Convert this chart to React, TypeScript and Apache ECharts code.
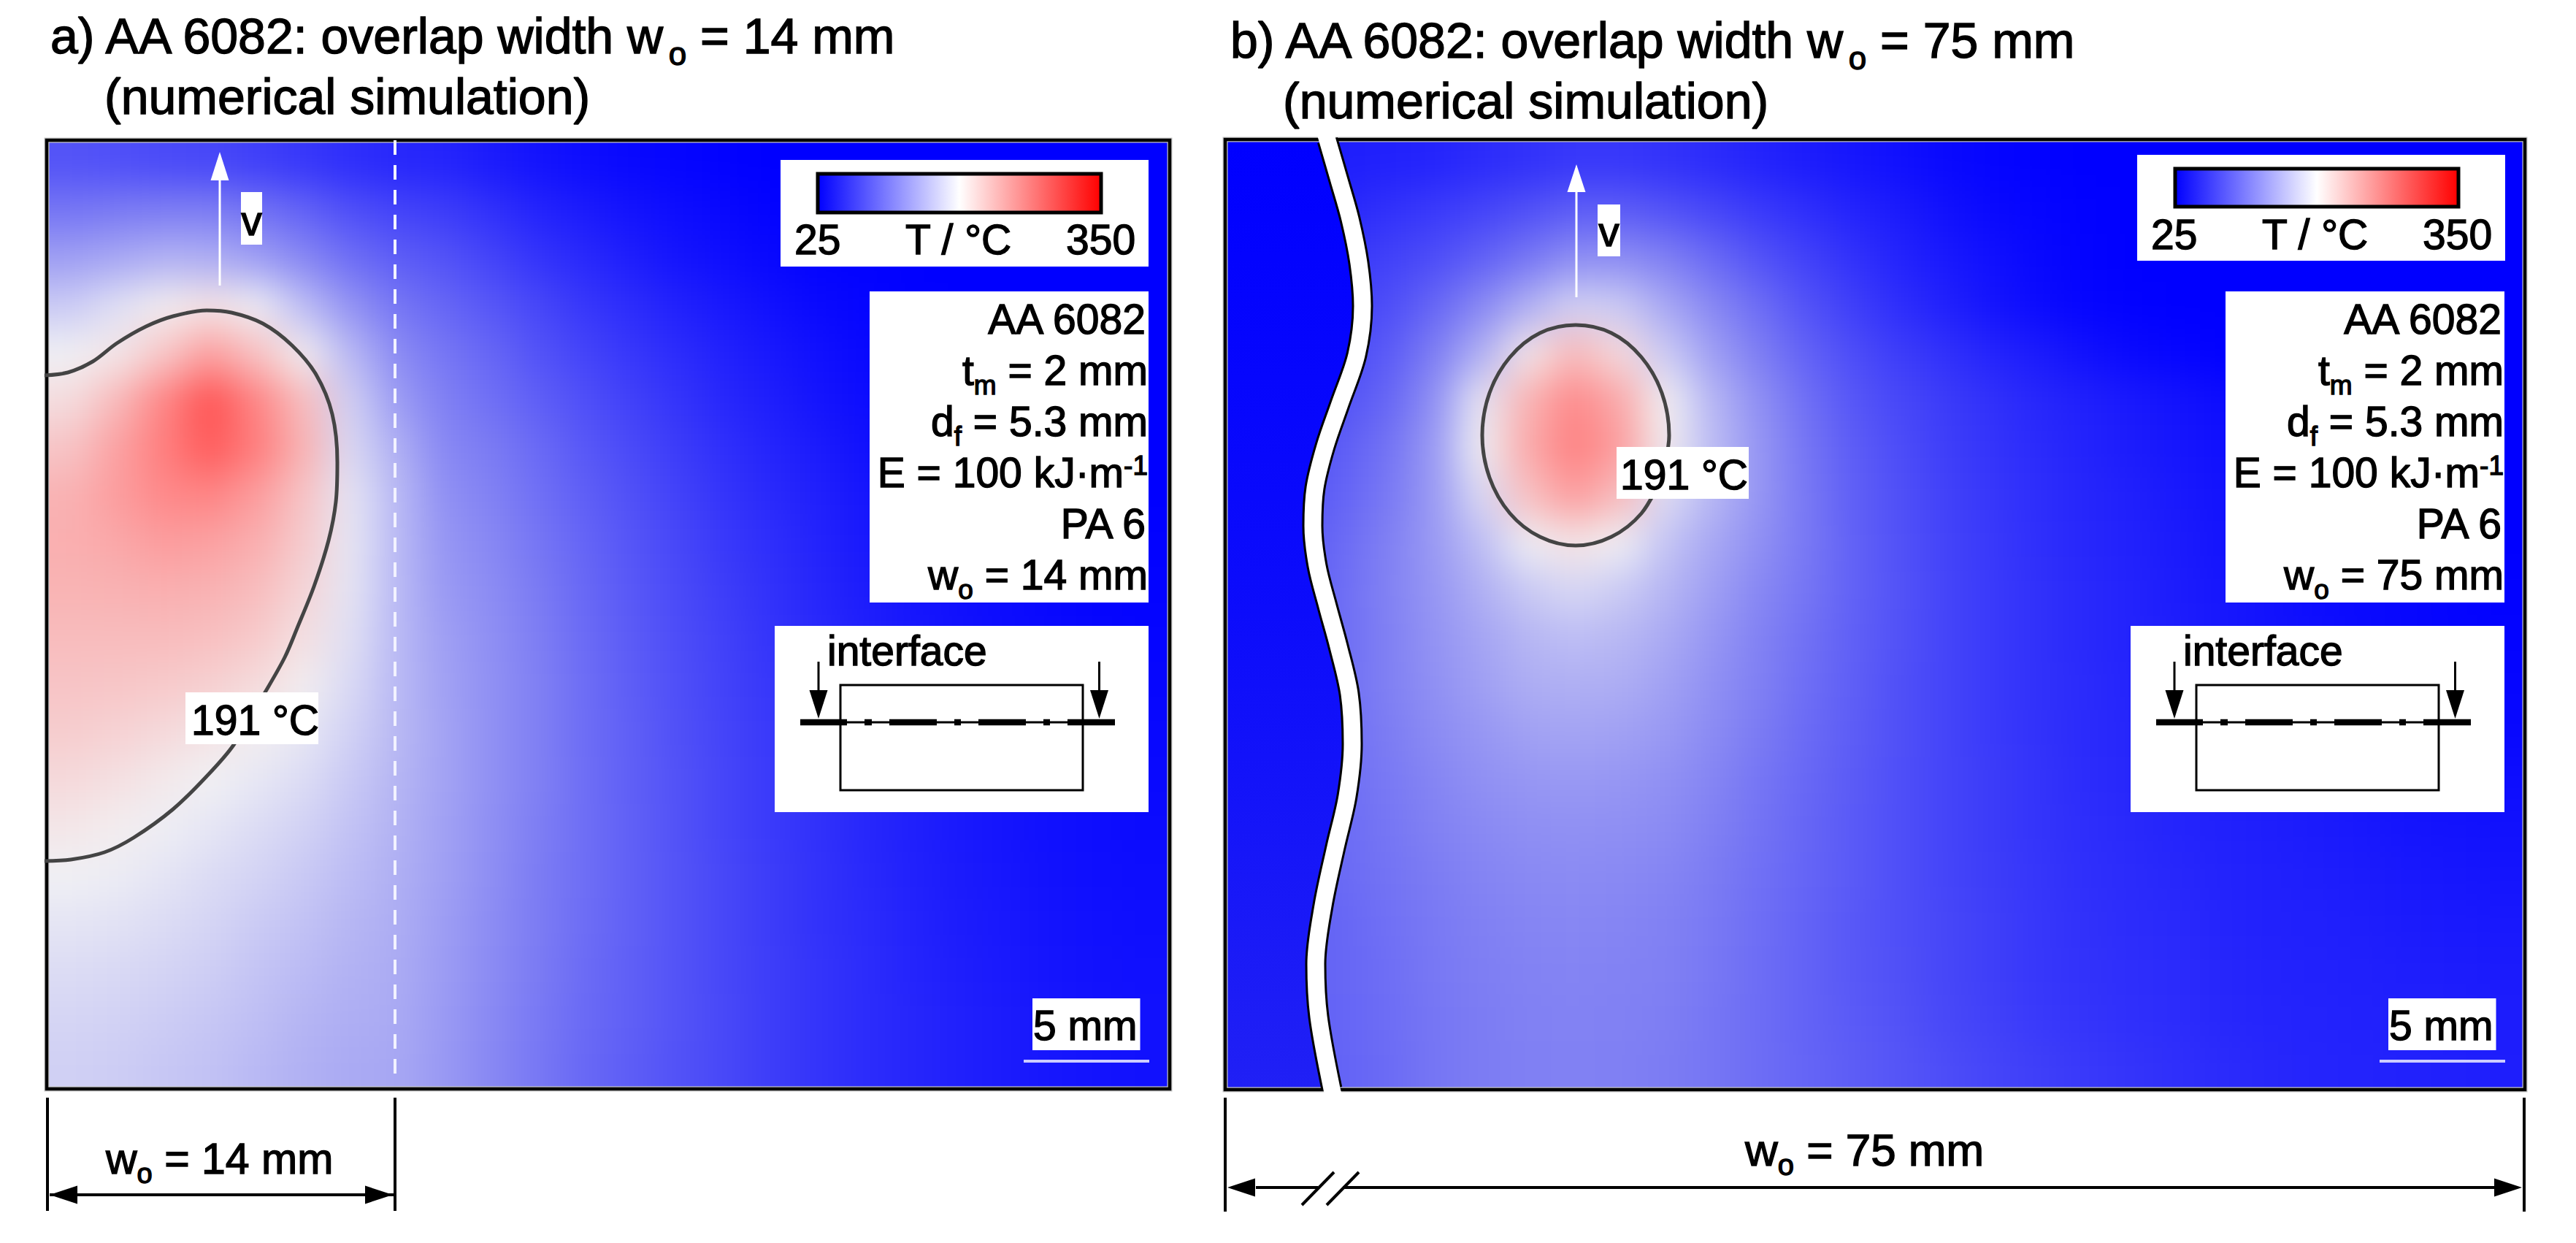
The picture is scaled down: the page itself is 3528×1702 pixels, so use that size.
import React, { useEffect, useRef } from "react";
import * as echarts from "echarts";

// temperature colour scale
const tempMin = 25;
const tempMax = 350;
const scaleColors = ["#0000ff", "#ffffff", "#ff0000"];
const fieldColors = ["#0000ff", "#8080f3", "#f2f2f4", "#ff8080", "#ff0000"];

// a) w_o = 14 mm : temperature in °C, 20 rows x 24 columns
const tempA = [
  [78,75,72,70,65,60,54,50,48,42,37,33,30,28,26,25,25,25,25,25,25,25,25,25],
  [100,103,105,105,98,88,75,68,64,56,48,42,37,33,30,27,26,25,25,25,25,25,25,25],
  [128,135,142,140,128,112,95,84,78,68,58,51,44,38,34,30,27,26,25,25,25,25,25,25],
  [160,175,190,198,185,150,120,100,90,80,70,60,53,46,40,35,31,28,26,25,25,25,25,25],
  [186,196,218,247,222,190,146,114,100,90,78,68,60,53,46,40,35,31,28,26,25,25,25,25],
  [203,228,265,298,265,225,163,126,106,96,85,75,66,58,50,44,38,33,30,27,26,25,25,25],
  [220,245,270,292,270,232,170,140,112,103,92,81,72,63,55,48,42,36,32,29,27,26,25,25],
  [233,248,262,265,248,220,178,147,118,108,96,85,76,67,58,51,45,39,34,31,28,27,26,25],
  [235,240,248,245,235,215,180,147,122,112,100,89,79,70,61,54,47,41,36,33,30,28,27,26],
  [232,233,235,233,225,208,178,147,125,115,103,91,81,72,64,56,49,43,38,35,32,30,28,27],
  [226,226,226,223,216,200,175,147,128,117,105,93,83,74,66,58,51,45,40,36,33,31,29,28],
  [220,219,216,212,204,190,170,147,130,118,106,94,84,75,67,60,53,47,42,38,35,32,30,29],
  [214,210,205,198,190,180,164,146,131,118,106,94,85,76,68,61,54,48,43,39,36,33,31,30],
  [205,200,194,187,180,172,158,144,131,118,106,95,85,77,69,62,55,49,44,40,37,34,32,31],
  [196,191,185,179,172,165,153,142,130,117,105,95,86,77,69,62,56,50,45,41,38,35,33,32],
  [186,183,178,172,166,158,149,140,129,116,104,95,86,78,70,63,57,51,46,42,39,36,34,33],
  [178,176,172,167,160,153,145,138,127,115,104,94,86,78,70,63,57,52,47,43,40,37,35,34],
  [172,170,166,162,155,148,142,137,126,114,103,93,85,78,70,64,58,53,48,44,41,38,36,35],
  [167,165,161,157,151,144,139,136,125,113,102,92,85,78,71,64,58,53,49,45,42,39,37,36],
  [163,161,157,153,147,141,136,134,124,112,101,91,84,77,71,64,58,53,49,45,42,39,37,36],
];

// b) w_o = 75 mm : temperature in °C, 20 rows x 28 columns
const tempB = [
  [40,42,44,46,48,52,56,60,60,57,52,47,43,39,35,31,28,26,25,25,25,25,25,25,25,25,25,25],
  [44,46,50,56,62,68,76,84,84,78,70,62,55,48,42,36,31,28,26,25,25,25,25,25,25,25,25,25],
  [50,54,60,66,74,86,100,116,116,106,92,78,67,57,48,41,35,30,27,25,25,25,25,25,25,25,25,25],
  [55,60,66,74,90,112,140,165,160,135,112,94,78,65,54,46,38,32,28,26,25,25,25,25,25,25,25,25],
  [60,65,72,82,105,140,195,228,205,160,128,105,88,74,64,56,48,42,36,31,28,26,25,25,25,25,25,25],
  [65,70,78,90,118,180,232,262,240,188,145,118,96,80,71,63,56,50,45,41,37,33,30,28,26,25,25,25],
  [68,74,84,98,125,186,238,268,248,190,150,122,100,84,74,65,58,52,47,43,39,35,32,30,28,26,25,25],
  [72,78,88,102,125,170,222,248,226,172,145,122,102,86,76,67,60,54,49,45,41,37,34,31,29,27,26,25],
  [75,80,92,106,125,150,185,198,186,155,135,118,102,87,77,68,61,55,50,46,42,38,35,32,30,28,26,25],
  [78,82,94,108,122,140,158,168,160,145,128,112,100,87,78,69,62,56,51,47,43,39,36,33,31,29,27,26],
  [80,84,94,106,120,132,145,150,146,136,122,108,97,86,77,69,62,56,51,47,44,40,37,34,32,30,28,27],
  [82,85,95,106,118,128,138,140,138,130,118,106,95,85,76,69,62,56,52,48,45,41,38,36,34,32,30,28],
  [84,86,95,104,114,122,130,132,130,124,114,103,93,84,76,69,62,57,52,49,46,43,40,38,36,34,32,30],
  [85,87,94,102,110,118,122,124,122,118,110,100,91,83,75,69,63,58,53,50,47,44,42,40,38,36,34,33],
  [85,87,93,100,107,113,117,118,117,114,106,98,90,82,75,69,63,58,54,51,48,46,44,42,40,38,37,36],
  [85,87,92,98,104,109,113,114,113,110,104,96,89,82,75,69,64,59,55,52,50,47,45,44,42,40,39,38],
  [85,86,90,96,102,106,110,111,110,107,102,95,88,81,75,70,65,60,56,53,51,48,46,45,44,42,41,40],
  [85,86,90,95,101,105,108,109,108,106,101,94,88,81,76,70,65,60,57,54,52,49,47,46,45,44,43,42],
  [85,85,89,94,100,104,107,108,107,105,100,94,88,82,77,71,66,61,58,55,53,50,48,47,46,45,44,43],
  [84,85,88,93,100,104,106,107,106,104,100,94,89,84,79,74,69,65,61,58,55,52,50,48,47,46,45,44],
];

// 191 °C isotherms
const contourA = [[60,514],[93,510],[127,495],[160,470],[200,447],[237,433],[283,425],[317,428],[360,443],[400,473],[433,513],[455,567],[462,633],[460,687],[450,740],[430,803],[407,860],[390,900],[363,948],[320,1020],[283,1063],[237,1108],[183,1147],[143,1167],[97,1177],[60,1179]];
const contourB = [[2276,654],[2248,703],[2207,735],[2158,747],[2109,735],[2068,703],[2040,654],[2030,596],[2040,538],[2068,489],[2109,456],[2158,445],[2207,456],[2248,489],[2276,538],[2286,596],[2276,654]];
// centre line of the wavy break in panel b
const breakMid = [[1818,192],[1834,247],[1849,300],[1861,360],[1866,419],[1858,486],[1835,553],[1815,611],[1801,668],[1798,720],[1804,775],[1818,830],[1833,885],[1848,950],[1852,1019],[1845,1090],[1829,1160],[1812,1240],[1802,1320],[1806,1392],[1824,1491]];
const breakTail = [[1812,172],[1830,1512]];

const titleA1 = "a) AA 6082: overlap width ";
const titleB1 = "b) AA 6082: overlap width ";
const titleLine2 = "(numerical simulation)";
const FONT = '"Liberation Sans"';

type Part = { t: string; sub?: boolean; sup?: boolean };

const canvasCtx = document.createElement("canvas").getContext("2d") as CanvasRenderingContext2D;
function tw(s: string, fs: number) {
  canvasCtx.font = `${fs}px ${FONT}`;
  return canvasCtx.measureText(s).width;
}

const textStyle = (text: string, size: number, align = "left") => ({
  text, fontSize: size, fontFamily: FONT, fill: "#000", stroke: "#000", lineWidth: 1.4, align, verticalAlign: "middle",
});

function label(x: number, baseline: number, parts: Part[], fs: number, opts: { right?: boolean; subFs?: number; subDy?: number; z?: number } = {}) {
  const subFs = opts.subFs ?? Math.round(fs * 0.64);
  const subDy = opts.subDy ?? 13;
  const widths = parts.map((p) => tw(p.t, p.sub || p.sup ? subFs : fs));
  const total = widths.reduce((a, b) => a + b, 0);
  let cx = opts.right ? x - total : x;
  return parts.map((p, i) => {
    const size = p.sub || p.sup ? subFs : fs;
    const by = baseline + (p.sub ? subDy : p.sup ? -17 : 0);
    const el = { type: "text", z: opts.z ?? 11, x: cx, y: by - size * 0.345, style: textStyle(p.t, size) };
    cx += widths[i];
    return el;
  });
}

const box = (x0: number, y0: number, x1: number, y1: number) => ({
  type: "rect", z: 10, shape: { x: x0, y: y0, width: x1 - x0, height: y1 - y0 }, style: { fill: "#fff" },
});
const seg = (x0: number, y0: number, x1: number, y1: number, w: number, color = "#000", z = 11) => ({
  type: "line", z, shape: { x1: x0, y1: y0, x2: x1, y2: y1 }, style: { stroke: color, lineWidth: w },
});
const tri = (pts: number[][], color = "#000", z = 11) => ({
  type: "polygon", z, shape: { points: pts }, style: { fill: color },
});

function panelBorder(x0: number, y0: number, x1: number, y1: number) {
  const r = (stroke: string, w: number, z: number) => ({
    type: "rect", z, shape: { x: x0, y: y0, width: x1 - x0, height: y1 - y0 }, style: { fill: "none", stroke, lineWidth: w },
  });
  return [r("#c4c4c4", 7, 1), r("#000", 4.5, 1)];
}

function colourLegend(boxX0: number, boxX1: number, boxY0: number, boxY1: number, barX0: number, barX1: number, barY0: number, barY1: number, base: number, xs: number[]) {
  return [
    box(boxX0, boxY0, boxX1, boxY1),
    {
      type: "rect", z: 11,
      shape: { x: barX0 + 2, y: barY0 + 2, width: barX1 - barX0 - 4, height: barY1 - barY0 - 4 },
      style: {
        stroke: "#000", lineWidth: 5,
        fill: new echarts.graphic.LinearGradient(0, 0, 1, 0, [
          { offset: 0, color: scaleColors[0] }, { offset: 0.5, color: scaleColors[1] }, { offset: 1, color: scaleColors[2] },
        ]),
      },
    },
    ...label(xs[0], base, [{ t: String(tempMin) }], 57),
    ...label(xs[1], base, [{ t: "T / °C" }], 57),
    ...label(xs[2], base, [{ t: String(tempMax) }], 57),
  ];
}

function infoBox(dx: number, x0: number, wo: string) {
  const right = 1572 + dx;
  const lines: Part[][] = [
    [{ t: "AA 6082" }],
    [{ t: "t" }, { t: "m", sub: true }, { t: " = 2 mm" }],
    [{ t: "d" }, { t: "f", sub: true }, { t: " = 5.3 mm" }],
    [{ t: "E = 100 kJ·m" }, { t: "-1", sup: true }],
    [{ t: "PA 6" }],
    [{ t: "w" }, { t: "o", sub: true }, { t: ` = ${wo} mm` }],
  ];
  const bases = [457, 527, 597, 667, 737, 807];
  return [box(x0, 399, 1573 + dx, 825), ...lines.flatMap((l, i) => label(right, bases[i], l, 57, { right: true, subFs: 37 }))];
}

function schematic(dx: number) {
  const y = 989;
  const thick = [[1096, 1160], [1184, 1194], [1218, 1283], [1307, 1316], [1340, 1405], [1429, 1438], [1462, 1527]];
  const arrow = (x: number) => [
    seg(x + dx, 906, x + dx, 950, 3),
    tri([[x - 12.5 + dx, 945], [x + 12.5 + dx, 945], [x + dx, 984]]),
  ];
  return [
    box(1061 + dx, 857, 1573 + dx, 1112),
    ...label(1133 + dx, 911, [{ t: "interface" }], 57),
    { type: "rect", z: 11, shape: { x: 1151 + dx, y: 938, width: 332, height: 144 }, style: { fill: "none", stroke: "#000", lineWidth: 3 } },
    seg(1096 + dx, y, 1527 + dx, y, 3),
    ...thick.map(([a, b]) => seg(a + dx, y, b + dx, y, 8.5)),
    ...arrow(1121),
    ...arrow(1505.5),
  ];
}

function scaleBar(dx: number) {
  return [
    box(1414 + dx, 1367, 1561.5 + dx, 1438),
    ...label(1415 + dx, 1424, [{ t: "5 mm" }], 57),
    seg(1402 + dx, 1453, 1574 + dx, 1453, 4, "#ccccff"),
  ];
}

function vArrow(x: number, tip: number, headBase: number, end: number, bx0: number, bx1: number, by0: number, by1: number, base: number) {
  return [
    seg(x, headBase - 2, x, end, 3, "#fff"),
    tri([[x - 12.5, headBase], [x + 12.5, headBase], [x, tip]], "#fff"),
    box(bx0, by0, bx1, by1),
    { type: "text", z: 12, x: (bx0 + bx1) / 2, y: base - 57 * 0.345, style: textStyle("v", 57, "center") },
  ];
}

function dimension(x0: number, x1: number, y: number, top: number, bottom: number) {
  return [
    seg(x0, top, x0, bottom, 4),
    seg(x1, top, x1, bottom, 4),
    tri([[x0 + 3, y], [x0 + 41, y - 12.5], [x0 + 41, y + 12.5]]),
    tri([[x1 - 3, y], [x1 - 41, y - 12.5], [x1 - 41, y + 12.5]]),
  ];
}

function buildGraphic() {
  const lineA: Part[] = [{ t: titleA1 + "w" }, { t: "o", sub: true }, { t: " = 14 mm" }];
  const lineB: Part[] = [{ t: titleB1 + "w" }, { t: "o", sub: true }, { t: " = 75 mm" }];
  const dimA: Part[] = [{ t: "w" }, { t: "o", sub: true }, { t: " = 14 mm" }];
  const dimB: Part[] = [{ t: "w" }, { t: "o", sub: true }, { t: " = 75 mm" }];
  return [
    ...panelBorder(64, 192, 1602, 1491),
    ...panelBorder(1678, 191, 3458, 1492),
    ...label(69, 72, lineA, 68, { subFs: 44, subDy: 17 }),
    ...label(143, 155, [{ t: titleLine2 }], 68),
    ...label(1685, 78, lineB, 68, { subFs: 44, subDy: 17 }),
    ...label(1757, 161, [{ t: titleLine2 }], 68),
    { type: "line", z: 3, shape: { x1: 541, y1: 192, x2: 541, y2: 1478 }, style: { stroke: "#f2f2ff", lineWidth: 4, lineDash: [20, 14] } },
    ...vArrow(301, 208, 247, 391, 330, 359, 263, 335, 322),
    ...vArrow(2159, 225, 263, 407, 2188, 2219, 280, 351, 337),
    box(254, 948, 436, 1019),
    ...label(262, 1006, [{ t: "191 °C" }], 57),
    box(2214, 612, 2395, 683),
    ...label(2219, 670, [{ t: "191 °C" }], 57),
    ...colourLegend(1069, 1573, 219, 365, 1118, 1510, 236, 293, 348, [1088, 1240, 1460]),
    ...colourLegend(2927, 3431, 212, 357, 2977, 3369, 229, 285, 341, [2946, 3098, 3318]),
    ...infoBox(0, 1191, "14"),
    ...infoBox(1857, 3048, "75"),
    ...schematic(0),
    ...schematic(1857),
    ...scaleBar(0),
    ...scaleBar(1857),
    ...dimension(65, 541, 1636, 1503, 1658),
    ...label(145, 1607, dimA, 59, { subFs: 38 }),
    ...dimension(1678, 3457, 1626, 1503, 1659),
    seg(1720, 1626, 3417, 1626, 4),
    seg(68, 1636, 539, 1636, 4),
    { type: "rect", z: 11, shape: { x: 1805, y: 1620, width: 34, height: 12 }, style: { fill: "#fff" } },
    seg(1783, 1650, 1827, 1605, 4, "#000", 12),
    seg(1817, 1650, 1861, 1605, 4, "#000", 12),
    ...label(2390, 1596, dimB, 62, { subFs: 40 }),
  ];
}

function overlayOption(): any {
  const leftRegion = [[1678, 191], ...breakMid, [1678, 1492]];
  const breakFull = [breakTail[0], ...breakMid, breakTail[1]];
  return {
    animation: false,
    backgroundColor: "transparent",
    grid: [
      { left: 64, top: 192, width: 1538, height: 1299 },
      { left: 1678, top: 191, width: 1780, height: 1301 },
    ],
    xAxis: [
      { type: "value", gridIndex: 0, min: 64, max: 1602, show: false },
      { type: "value", gridIndex: 1, min: 1678, max: 3458, show: false },
    ],
    yAxis: [
      { type: "value", gridIndex: 0, min: 192, max: 1491, inverse: true, show: false },
      { type: "value", gridIndex: 1, min: 191, max: 1492, inverse: true, show: false },
    ],
    series: [
      {
        type: "custom", xAxisIndex: 1, yAxisIndex: 1, z: 0, silent: true, data: [[1700, 300]],
        renderItem: (_p: any, api: any) => ({
          type: "polygon",
          shape: { points: leftRegion.map((q) => api.coord(q)) },
          style: {
            fill: new echarts.graphic.LinearGradient(0, 0, 0, 1, [
              { offset: 0, color: "#0000ff" }, { offset: 0.5, color: "#0c0cfb" }, { offset: 1, color: "#2020f5" },
            ]),
          },
        }),
      },
      { type: "line", xAxisIndex: 0, yAxisIndex: 0, z: 5, data: contourA, smooth: 0.33, symbol: "none", clip: true, lineStyle: { color: "#444444", width: 5 } },
      { type: "line", xAxisIndex: 1, yAxisIndex: 1, z: 5, data: contourB, smooth: 0.33, symbol: "none", lineStyle: { color: "#444444", width: 5 } },
      { type: "line", xAxisIndex: 1, yAxisIndex: 1, z: 6, data: breakMid, smooth: 0.33, symbol: "none", clip: false, lineStyle: { color: "#000", width: 29, cap: "butt" } },
      { type: "line", xAxisIndex: 1, yAxisIndex: 1, z: 7, data: breakFull, smooth: 0.33, symbol: "none", clip: false, lineStyle: { color: "#fff", width: 23 } },
    ],
    graphic: buildGraphic(),
  };
}

const PAD = 2;
function heatOption(rows: number[][]): any {
  const pr = (r: number[]) => [...Array(PAD).fill(r[0]), ...r, ...Array(PAD).fill(r[r.length - 1])];
  const padded = [...Array(PAD).fill(rows[0]), ...rows, ...Array(PAD).fill(rows[rows.length - 1])].map(pr);
  const data: number[][] = [];
  padded.forEach((r, j) => r.forEach((v: number, i: number) => data.push([i, j, v])));
  return {
    animation: false,
    grid: { left: 0, right: 0, top: 0, bottom: 0 },
    xAxis: { type: "category", show: false, data: padded[0].map((_: number, i: number) => i) },
    yAxis: { type: "category", show: false, inverse: true, data: padded.map((_, j) => j) },
    visualMap: { show: false, min: tempMin, max: tempMax, inRange: { color: fieldColors } },
    series: [{ type: "heatmap", data, progressive: 0, silent: true, itemStyle: { borderWidth: 0 } }],
  };
}

function Heat({ rows, left, top, width, height }: { rows: number[][]; left: number; top: number; width: number; height: number }) {
  const ref = useRef<HTMLDivElement>(null);
  const cw = width / rows[0].length;
  const ch = height / rows.length;
  const w = width + 2 * PAD * cw;
  const h = height + 2 * PAD * ch;
  useEffect(() => {
    const c = echarts.init(ref.current as HTMLDivElement, undefined, { renderer: "svg", width: w, height: h });
    c.setOption(heatOption(rows));
    return () => c.dispose();
  }, []);
  return (
    <div style={{ position: "absolute", left, top, width, height, overflow: "hidden", background: "#4040ff" }}>
      <div ref={ref} style={{ position: "absolute", left: -PAD * cw, top: -PAD * ch, width: w, height: h, filter: "blur(26px)" }} />
    </div>
  );
}

export default function App() {
  const ref = useRef<HTMLDivElement>(null);
  useEffect(() => {
    const c = echarts.init(ref.current as HTMLDivElement, undefined, { renderer: "svg" });
    c.setOption(overlayOption());
    return () => c.dispose();
  }, []);
  return (
    <div style={{ position: "fixed", left: 0, top: 0, width: 3528, height: 1702, background: "#fff", overflow: "hidden" }}>
      <Heat rows={tempA} left={64} top={192} width={1538} height={1299} />
      <Heat rows={tempB} left={1678} top={191} width={1780} height={1301} />
      <div ref={ref} style={{ position: "absolute", left: 0, top: 0, width: 3528, height: 1702 }} />
    </div>
  );
}
